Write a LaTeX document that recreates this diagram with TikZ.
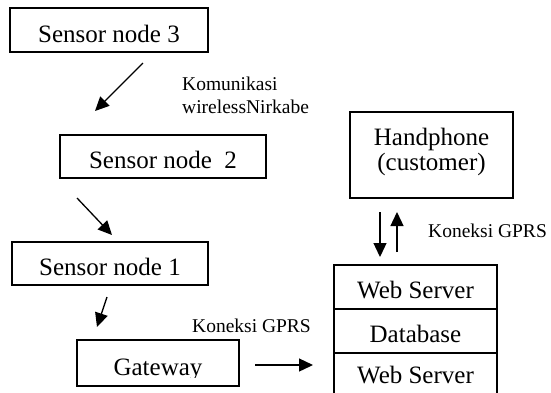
\documentclass[tikz,border=0pt]{standalone}
\usepackage{fontspec}
\setmainfont{Liberation Serif}
\usetikzlibrary{arrows.meta}
\begin{document}
\begin{tikzpicture}[x=1pt,y=-1pt,
  box/.style={draw,line width=1.2pt},
  btxt/.style={inner sep=0pt,anchor=base,font=\fontsize{25}{28}\selectfont},
  lbl/.style={inner sep=0pt,anchor=base west,font=\fontsize{19.5}{23}\selectfont},
  arr/.style={line width=1.3pt,-{Triangle[length=14pt,width=13pt]}}]
\useasboundingbox (0,0) rectangle (551,392);
\fill[white] (0,0) rectangle (551,392);
% boxes
\draw[box] (10,8) rectangle (208,52);
\draw[box] (60,135) rectangle (266,178);
\draw[box] (12,242) rectangle (208,285);
\draw[box] (77,340) rectangle (239,386);
\draw[box] (350,112) rectangle (513,198);
\draw[box] (334,265) rectangle (497,309);
\draw[box] (334,309) rectangle (497,353);
\draw[box] (334,353) rectangle (497,400);
% texts
\node[btxt] (s3) at (109,42) {Sensor node 3};
\node[btxt] (s2) at (163,168) {Sensor node\ \ 2};
\node[btxt] (s1) at (110,275) {Sensor node 1};
\begin{scope}
\clip (77,340) rectangle (239,377);
\node[btxt] (gw) at (158,375) {Gateway};
\end{scope}
\node[btxt] (hp1) at (431.5,145) {Handphone};
\node[btxt] (hp2) at (431.5,170) {(customer)};
\node[btxt] (ws1) at (415.5,298) {Web Server};
\node[btxt] (db) at (415.5,342) {Database};
\node[btxt] (ws2) at (415.5,383) {Web Server};
% arrows
\coordinate (a1s) at (143,63); \coordinate (a1e) at (95,111);
\coordinate (a2s) at (77,198); \coordinate (a2e) at (112,235);
\coordinate (a3s) at (107,297); \coordinate (a3e) at (97,327);
\coordinate (a4s) at (255,365); \coordinate (a4e) at (313,365);
\coordinate (a5s) at (380,212); \coordinate (a5e) at (380,257);
\coordinate (a6s) at (397,252); \coordinate (a6e) at (397,212);
\draw[arr] (a1s) -- (a1e);
\draw[arr] (a2s) -- (a2e);
\draw[arr] (a3s) -- (a3e);
\draw[arr] (a4s) -- (a4e);
\draw[arr] (a5s) -- (a5e);
\draw[arr] (a6s) -- (a6e);
% labels
\node[lbl] (l1a) at (182,90) {Komunikasi};
\node[lbl] (l1b) at (182,113) {wirelessNirkabe};
\node[lbl] (l2) at (192,332) {Koneksi GPRS};
\node[lbl] (l3) at (428,237) {Koneksi GPRS};
\end{tikzpicture}
\end{document}
